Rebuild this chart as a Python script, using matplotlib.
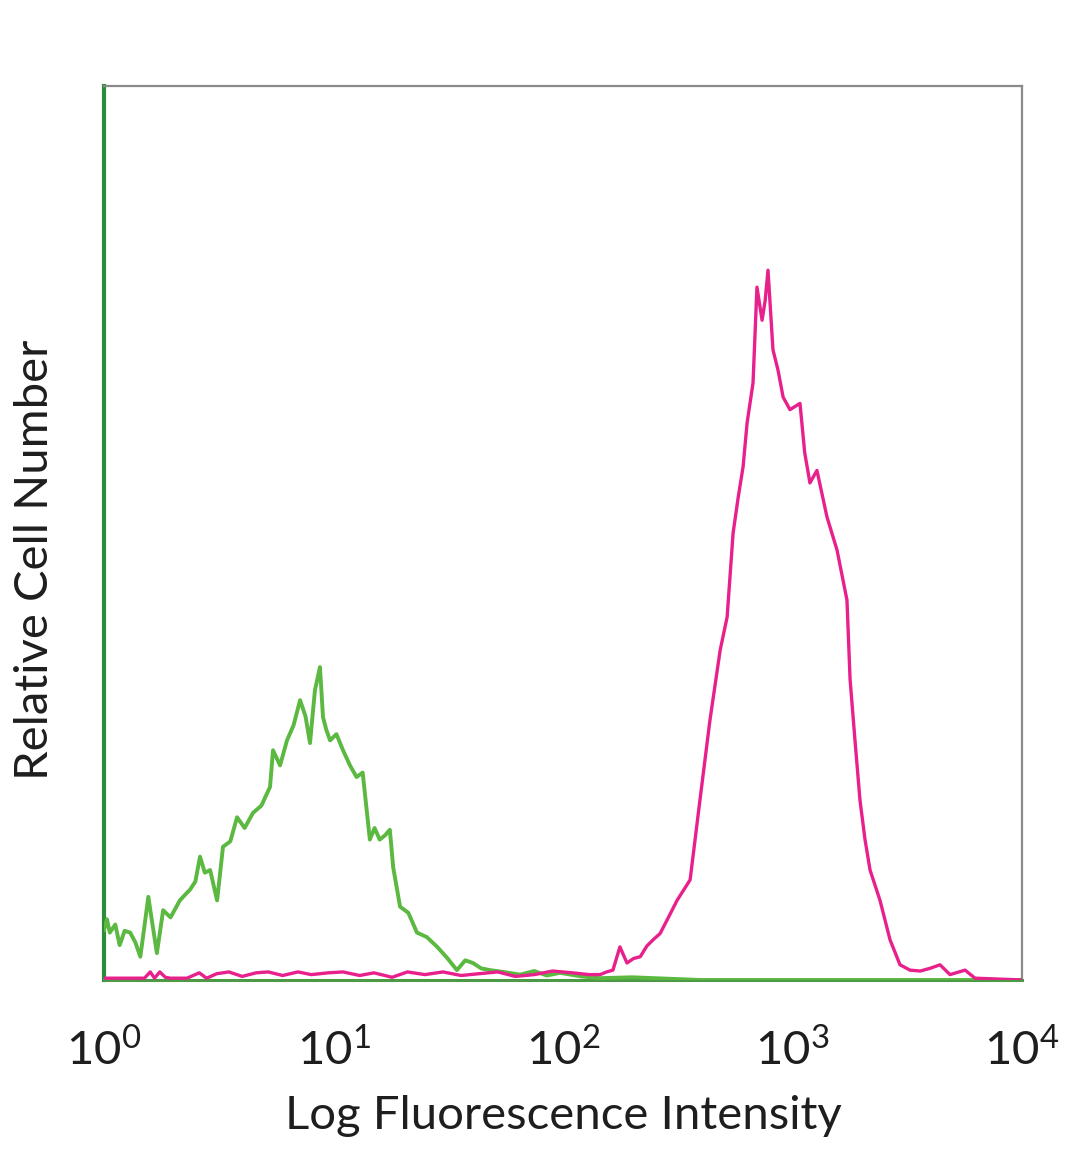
import matplotlib
matplotlib.use("Agg")
import matplotlib.pyplot as plt
from matplotlib.ticker import FixedLocator, FixedFormatter

# fluorescence intensity (linear units) and relative counts (% of axis height)
green_x = [1.0, 1.03, 1.06, 1.12, 1.17, 1.23, 1.30, 1.37, 1.44, 1.50, 1.56, 1.62, 1.70,
           1.81, 1.95, 2.14, 2.25, 2.37, 2.50, 2.62, 2.75, 2.90, 3.11, 3.30, 3.55, 3.80,
           4.10, 4.46, 4.85, 5.29, 5.45, 5.85, 6.27, 6.70, 7.15, 7.55, 7.90, 8.30, 8.73,
           9.00, 9.30, 9.66, 10.3, 11.0, 11.8, 12.6, 13.4, 14.4, 15.1, 15.9, 16.8, 17.6,
           18.2, 19.5, 21.2, 23.1, 25.5, 28.3, 31.2, 34.5, 37.5, 40.5, 44.0, 48.1, 55.0,
           65.0, 75.0, 85.0, 97.0, 120.0, 145.0, 200.0, 395.0, 1000.0, 3000.0, 10000.0]
green_y = [5.6, 6.8, 5.3, 6.2, 3.9, 5.5, 5.3, 4.2, 2.6, 6.0, 9.3, 6.5, 3.0,
           7.8, 7.0, 8.9, 9.5, 10.1, 11.0, 13.8, 12.0, 12.3, 8.9, 14.9, 15.5, 18.2,
           17.0, 18.7, 19.5, 21.6, 25.7, 24.0, 26.8, 28.5, 31.3, 29.5, 26.5, 32.4, 35.0,
           29.4, 28.0, 26.8, 27.5, 25.7, 24.0, 22.7, 23.2, 15.7, 17.0, 15.7, 16.2, 16.8,
           12.6, 8.2, 7.5, 5.3, 4.8, 3.7, 2.5, 1.1, 2.2, 1.9, 1.3, 1.1, 0.9,
           0.6, 1.0, 0.5, 0.8, 0.4, 0.2, 0.3, 0.0, 0.0, 0.0, 0.0]

pink_x = [1.0, 1.5, 1.59, 1.66, 1.75, 1.85, 1.94, 2.3, 2.6, 2.8, 3.1, 3.5, 4.0, 4.6,
          5.2, 6.0, 7.0, 8.0, 9.5, 11.0, 13.0, 15.0, 18.0, 21.0, 25.0, 30.0, 36.0,
          43.0, 52.0, 62.0, 75.0, 90.0, 110.0, 130.0, 145.0, 155.0, 165.0, 177.0,
          190.0, 203.0, 217.0, 232.0, 247.0, 265.0, 284.0, 314.0, 358.0, 395.0, 437.0,
          484.0, 519.0, 551.0, 580.0, 609.0, 634.0, 673.0, 700.0, 737.0, 760.0, 782.0,
          822.0, 865.0, 910.0, 975.0, 1078.0, 1130.0, 1191.0, 1278.0, 1413.0, 1563.0,
          1727.0, 1782.0, 1872.0, 1968.0, 2070.0, 2177.0, 2406.0, 2660.0, 2940.0,
          3251.0, 3600.0, 3972.0, 4393.0, 4856.0, 5650.0, 6240.0, 10000.0]
pink_y = [0.2, 0.2, 0.9, 0.2, 0.9, 0.3, 0.2, 0.2, 0.8, 0.2, 0.7, 0.9, 0.4, 0.8,
          0.9, 0.5, 0.9, 0.6, 0.8, 0.9, 0.5, 0.8, 0.3, 0.9, 0.6, 0.9, 0.5,
          0.7, 0.9, 0.4, 0.6, 1.0, 0.8, 0.6, 0.6, 0.9, 1.1, 3.7,
          1.9, 2.4, 2.6, 3.8, 4.5, 5.2, 6.7, 8.9, 11.2, 20.1, 29.1,
          36.9, 40.6, 50.0, 54.0, 57.4, 62.3, 66.8, 77.5, 73.8, 76.0, 79.4,
          70.5, 68.2, 65.2, 63.8, 64.5, 59.0, 55.6, 57.0, 51.8, 48.1,
          42.5, 33.6, 26.8, 20.1, 15.7, 12.3, 8.9, 4.5, 1.7,
          1.1, 1.0, 1.3, 1.7, 0.6, 1.1, 0.2, 0.0]

tick_values = [1, 10, 100, 1000, 10000]
tick_labels = [r"$10^{0}$", r"$10^{1}$", r"$10^{2}$", r"$10^{3}$", r"$10^{4}$"]

GREEN = "#5bb840"
DARK_GREEN = "#2f8c3c"
PINK = "#e8208c"
TEXT = "#1e1e1e"
FONT = "Lato"

plt.rcParams["font.family"] = FONT
plt.rcParams["mathtext.fontset"] = "custom"
plt.rcParams["mathtext.rm"] = FONT
plt.rcParams["mathtext.it"] = FONT
plt.rcParams["mathtext.bf"] = FONT

fig = plt.figure(figsize=(10.8, 11.69), dpi=100)
ax = fig.add_axes([0.0963, 0.1617, 0.85, 0.7647])

ax.plot(green_x, green_y, color=GREEN, lw=2.8, zorder=3)
ax.plot(pink_x, pink_y, color=PINK, lw=2.4, zorder=4)

ax.set_xscale("log")
ax.set_xlim(1, 10000)
ax.set_ylim(0, 100)

ax.xaxis.set_major_locator(FixedLocator(tick_values))
ax.xaxis.set_major_formatter(FixedFormatter(tick_labels))
ax.xaxis.set_minor_locator(FixedLocator([]))
ax.set_yticks([])
ax.tick_params(axis="x", length=0, pad=34, labelsize=34, colors=TEXT)

for side in ("top", "right"):
    ax.spines[side].set_color("#8a8a8a")
    ax.spines[side].set_linewidth(1.6)
ax.spines["left"].set_color(DARK_GREEN)
ax.spines["left"].set_linewidth(3.0)
ax.spines["bottom"].set_color("#4c9a45")
ax.spines["bottom"].set_linewidth(2.2)

ax.set_xlabel("Log Fluorescence Intensity", fontsize=34, color=TEXT, labelpad=16)
ax.set_ylabel("Relative Cell Number", fontsize=34, color=TEXT)
ax.yaxis.set_label_coords(-0.052, 0.47)

fig.savefig("out.png", dpi=100)
